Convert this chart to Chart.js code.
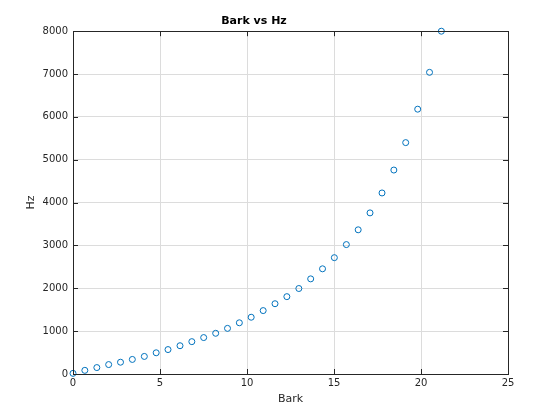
<!DOCTYPE html>
<html>
<head>
<meta charset="utf-8">
<script src="https://cdn.jsdelivr.net/npm/chart.js@4/dist/chart.umd.min.js"></script>
<style>
  html, body { margin: 0; padding: 0; background: #fff; }
  #wrap { width: 560px; height: 420px; position: relative; }
</style>
</head>
<body>
<div id="wrap"><canvas id="c" width="560" height="420"></canvas></div>
<script>
const barkValues = [0, 0.68, 1.37, 2.05, 2.73, 3.41, 4.10, 4.78, 5.46, 6.15, 6.83, 7.51, 8.20, 8.88, 9.56, 10.24,
  10.93, 11.61, 12.29, 12.98, 13.66, 14.34, 15.02, 15.71, 16.39, 17.07, 17.76, 18.44, 19.12, 19.81, 20.49, 21.17];
const hzValues = [15, 85, 150, 220, 275, 340, 410, 495, 570, 660, 755, 850, 950, 1065, 1195, 1325,
  1480, 1640, 1805, 1995, 2220, 2455, 2715, 3020, 3365, 3760, 4225, 4760, 5400, 6180, 7040, 8000];
const xTicks = [0, 5, 10, 15, 20, 25];
const yTicks = [0, 1000, 2000, 3000, 4000, 5000, 6000, 7000, 8000];
const chartTitle = 'Bark vs Hz';
const xLabel = 'Bark';
const yLabel = 'Hz';

const points = barkValues.map((b, i) => ({ x: b, y: hzValues[i] }));
const FONT = 'DejaVu Sans';
const AXIS_COLOR = '#262626';

const boxPlugin = {
  id: 'boxTicks',
  afterDatasetsDraw(chart) {
    const { ctx, chartArea: a, scales } = chart;
    ctx.save();
    ctx.strokeStyle = AXIS_COLOR;
    ctx.lineWidth = 1;
    ctx.beginPath();
    const L = 5;
    xTicks.forEach(v => {
      const px = Math.round(scales.x.getPixelForValue(v)) + 0.5;
      ctx.moveTo(px, a.bottom); ctx.lineTo(px, a.bottom - L);
      ctx.moveTo(px, a.top); ctx.lineTo(px, a.top + L);
    });
    yTicks.forEach(v => {
      const py = Math.round(scales.y.getPixelForValue(v)) + 0.5;
      ctx.moveTo(a.left, py); ctx.lineTo(a.left + L, py);
      ctx.moveTo(a.right, py); ctx.lineTo(a.right - L, py);
    });
    ctx.stroke();
    ctx.strokeRect(Math.round(a.left) + 0.5, Math.round(a.top) + 0.5,
      Math.round(a.right - a.left), Math.round(a.bottom - a.top));
    ctx.restore();
  }
};

new Chart(document.getElementById('c'), {
  type: 'scatter',
  data: {
    datasets: [{
      data: points,
      showLine: false,
      pointStyle: 'circle',
      pointRadius: 3,
      pointHoverRadius: 3,
      pointBorderWidth: 1,
      borderColor: '#0072BD',
      backgroundColor: 'rgba(0,0,0,0)',
      clip: false
    }]
  },
  options: {
    responsive: false,
    animation: false,
    devicePixelRatio: 1,
    layout: { autoPadding: false, padding: { left: 0, right: 52, top: 0, bottom: 0 } },
    plugins: {
      legend: { display: false },
      tooltip: { enabled: false },
      title: {
        display: true,
        text: chartTitle,
        color: '#000',
        font: { family: FONT, size: 11, weight: 'bold' },
        padding: { top: 15, bottom: 3 }
      }
    },
    scales: {
      x: {
        type: 'linear',
        min: 0, max: 25,
        afterFit(s) { s.height = 46; },
        afterBuildTicks(s) { s.ticks = xTicks.map(v => ({ value: v })); },
        ticks: { color: AXIS_COLOR, font: { family: FONT, size: 10 }, padding: 3, maxRotation: 0, callback: v => String(v) },
        grid: { color: '#dcdcdc', drawTicks: false },
        border: { display: false },
        title: { display: true, text: xLabel, color: AXIS_COLOR, font: { family: FONT, size: 11 }, padding: { top: 0, bottom: 14 } }
      },
      y: {
        type: 'linear',
        min: 0, max: 8000,
        afterFit(s) { s.width = 73; },
        afterBuildTicks(s) { s.ticks = yTicks.map(v => ({ value: v })); },
        ticks: { color: AXIS_COLOR, font: { family: FONT, size: 10 }, padding: 5, callback: v => String(v) },
        grid: { color: '#dcdcdc', drawTicks: false },
        border: { display: false },
        title: { display: true, text: yLabel, color: AXIS_COLOR, font: { family: FONT, size: 11 }, padding: { top: 25, bottom: 0 } }
      }
    }
  },
  plugins: [boxPlugin]
});
</script>
</body>
</html>
